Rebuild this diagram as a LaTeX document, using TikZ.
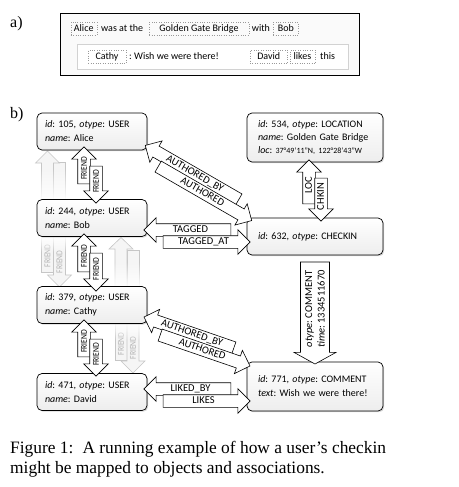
\documentclass[tikz,border=0pt]{standalone}
\usepackage{fontspec}
\setmainfont{Carlito}
\newfontfamily\capfont{Liberation Serif}
\usepackage{graphicx}
\usetikzlibrary{shapes.arrows,shadows,fadings}
\tikzfading[name=fadebot, top color=transparent!100, bottom color=transparent!0]
\tikzfading[name=fadetop, top color=transparent!0, bottom color=transparent!100]
\newcommand\frlab{\scalebox{0.85}[1]{\fontsize{9}{10}\selectfont FRIEND}}
\frenchspacing
\begin{document}
\frenchspacing
\begin{tikzpicture}[x=1pt,y=-1pt,
  objbox/.style={draw=black, line width=0.7pt, rounded corners=5pt, top color=white, bottom color=gray!14,
    drop shadow={shadow xshift=1.2pt, shadow yshift=-1.2pt, opacity=0.3}, align=left,
    font=\fontsize{10}{14}\selectfont\frenchspacing, inner ysep=2pt},
  leftbox/.style={objbox, inner xsep=8pt, text width=94pt, minimum height=37pt},
  rightbox/.style={objbox, inner xsep=11pt, text width=114pt},
  fat/.style={single arrow, draw=black, line width=0.6pt, fill=white, single arrow head extend=6pt,
    single arrow tip angle=90, inner xsep=1pt, inner ysep=1.25pt, text height=7.5pt, text depth=2pt,
    font=\fontsize{10.5}{12}\selectfont, minimum height=#1},
  rev/.style={shape border rotate=180},
  gr/.style={draw=gray!45, fill=gray!8, line width=0.6pt},
  grlab/.style={text=gray!60, inner sep=0pt, rotate=90},
  tag/.style={draw=gray!80, dotted, inner sep=0pt, text height=7pt, text depth=2pt, font=\fontsize{10}{12}\selectfont},
  word/.style={inner sep=0pt, text height=7pt, text depth=2pt, font=\fontsize{10}{12}\selectfont\frenchspacing},
  lbl/.style={inner sep=0pt, anchor=base west, font=\capfont\fontsize{16}{18}\selectfont}
]
\fill[white] (0,0) rectangle (458,487);
\useasboundingbox (0,0) rectangle (458,487);

% ---------- panel a ----------
\node[lbl] (la) at (10,28) {a)};
\node[draw=black, line width=0.6pt, fill=gray!4, minimum width=299pt, minimum height=62pt, inner sep=0pt,
  drop shadow={shadow xshift=1.2pt, shadow yshift=-1.2pt, opacity=0.3}] (outer) at (209.5,44) {};
\node[draw=gray!35, line width=0.5pt, fill=white, minimum width=271pt, minimum height=25pt, inner sep=0pt,
  drop shadow={shadow xshift=1pt, shadow yshift=-1pt, opacity=0.2}] (inner) at (212.5,56.5) {};
\node[tag, minimum width=26pt, minimum height=12.7pt] (alicet) at (83.7,28.7) {Alice};
\node[word, anchor=west] (w1) at (101,28.7) {was at the};
\node[tag, minimum width=99.4pt, minimum height=12.7pt] (ggbt) at (199,28.7) {Golden Gate Bridge};
\node[word, anchor=west] (w2) at (251.7,28.7) {with};
\node[tag, minimum width=25pt, minimum height=12.7pt] (bobt) at (285.8,28.7) {Bob};
\node[tag, minimum width=37.4pt, minimum height=13.3pt] (cathyt) at (107,56.7) {Cathy};
\node[word, anchor=west] (w3) at (129,56.7) {: Wish we were there!};
\node[tag, minimum width=37.3pt, minimum height=13.3pt] (davidt) at (268.7,56.7) {David};
\node[tag, minimum width=25pt, minimum height=13.3pt] (likest) at (302.5,56.7) {likes};
\node[word, anchor=west] (w4) at (320,56.7) {this};

% ---------- panel b ----------
\node[lbl] (lb) at (10,118) {b)};

% gray (faded) friend arrows
\draw[gr] (53.5,162) rectangle (65.5,205);
\draw[gr] (41.5,205) -- (41.5,163) -- (35.5,163) -- (47.5,151) -- (59.5,163) -- (53.5,163) -- (53.5,205) -- cycle;
\fill[white, path fading=fadebot] (32,168) rectangle (71,200);

\draw[gr] (41.5,230) rectangle (53.5,272);
\draw[gr] (53.5,230) -- (53.5,275) -- (47.5,275) -- (59.5,287) -- (71.5,275) -- (65.5,275) -- (65.5,230) -- cycle;
\node[grlab] (gfa) at (47.5,256) {\frlab};
\node[grlab] (gfb) at (59.5,262) {\frlab};
\fill[white, path fading=fadetop] (32,236) rectangle (74,252);

\draw[gr] (127,250) rectangle (139,300);
\draw[gr] (115,300) -- (115,249) -- (109,249) -- (121,237.5) -- (133,249) -- (127,249) -- (127,300) -- cycle;
\fill[white, path fading=fadebot] (106,262) rectangle (147,287.5);

\draw[gr] (115,310) rectangle (127,360);
\draw[gr] (127,310) -- (127,361) -- (121,361) -- (133,373) -- (145,361) -- (139,361) -- (139,310) -- cycle;
\node[grlab] (gfc) at (121,344) {\frlab};
\node[grlab] (gfd) at (133,348) {\frlab};
\fill[white, path fading=fadetop] (106,322) rectangle (147,340);

% object boxes
\node[leftbox] (alice) at (92,131.5) {\textit{id}: 105, \textit{otype}: USER\\\textit{name}: Alice};
\node[leftbox] (bob) at (92,218) {\textit{id}: 244, \textit{otype}: USER\\\textit{name}: Bob};
\node[leftbox] (cathy) at (92,305) {\textit{id}: 379, \textit{otype}: USER\\\textit{name}: Cathy};
\node[leftbox] (david) at (92,392) {\textit{id}: 471, \textit{otype}: USER\\\textit{name}: David};
\node[rightbox, minimum height=49pt, font=\fontsize{10}{13}\selectfont\frenchspacing] (loc) at (315,137.5)
  {\textit{id}: 534, \textit{otype}: LOCATION\\\textit{name}: Golden Gate Bridge\\\textit{loc}: {\fontsize{8}{13}\selectfont 37°49'11"N, 122°28'43"W}};
\node[rightbox, minimum height=37pt] (chk) at (315,236.5) {\textit{id}: 632, \textit{otype}: CHECKIN};
\node[rightbox, minimum height=49pt] (cmt) at (315,386.5) {\textit{id}: 771, \textit{otype}: COMMENT\\\textit{text}: Wish we were there!};

% black association arrows
\node[fat=37pt, rotate=90] (f1u) at (84,168.5) {\frlab};
\node[fat=37pt, rotate=90, rev] (f1d) at (96,181.5) {\frlab};
\node[fat=38pt, rotate=90] (f2u) at (84,256) {\frlab};
\node[fat=38pt, rotate=90, rev] (f2d) at (96,269) {\frlab};
\node[fat=37pt, rotate=90] (f3u) at (84,341.5) {\frlab};
\node[fat=37pt, rotate=90, rev] (f3d) at (96,354.5) {\frlab};

\node[fat=108pt, rotate=-30, rev] (ab1) at (194.8,174) {AUTHORED\_BY};
\node[fat=108pt, rotate=-30] (au1) at (202.2,192) {AUTHORED};
\node[fat=95pt, rotate=-19, rev] (ab2) at (191.9,333.5) {AUTHORED\_BY};
\node[fat=95pt, rotate=-19] (au2) at (202.1,349.5) {AUTHORED};

\node[fat=87pt, rev] (tg) at (190.5,230) {TAGGED};
\node[fat=87pt] (tga) at (203.5,242) {TAGGED\_AT};
\node[fat=87pt, rev] (lkb) at (190.5,389) {LIKED\_BY};
\node[fat=87pt] (lks) at (203.5,401) {LIKES};

\node[fat=44pt, rotate=90] (locar) at (309,185) {LOC};
\node[fat=43pt, rotate=90, rev] (chkar) at (321,196.5) {CHKIN};

\node[single arrow, draw=black, line width=0.6pt, fill=white, rotate=90, shape border rotate=180,
  single arrow head extend=6.5pt, single arrow tip angle=122, inner xsep=2pt, inner ysep=4.5pt,
  align=center, font=\fontsize{10.5}{12.5}\selectfont\frenchspacing, minimum height=102pt] (cmar) at (315,309)
  {\textit{otype}: COMMENT\\\textit{time}: 1334511670};

% caption
\node[inner sep=0pt, anchor=base west, font=\capfont\fontsize{17.4}{20}\selectfont] (cap1) at (10,453)
  {Figure 1:\hspace{9pt}A running example of how a user’s checkin};
\node[inner sep=0pt, anchor=base west, font=\capfont\fontsize{17.4}{20}\selectfont] (cap2) at (10,473)
  {might be mapped to objects and associations.};
\end{tikzpicture}
\end{document}
